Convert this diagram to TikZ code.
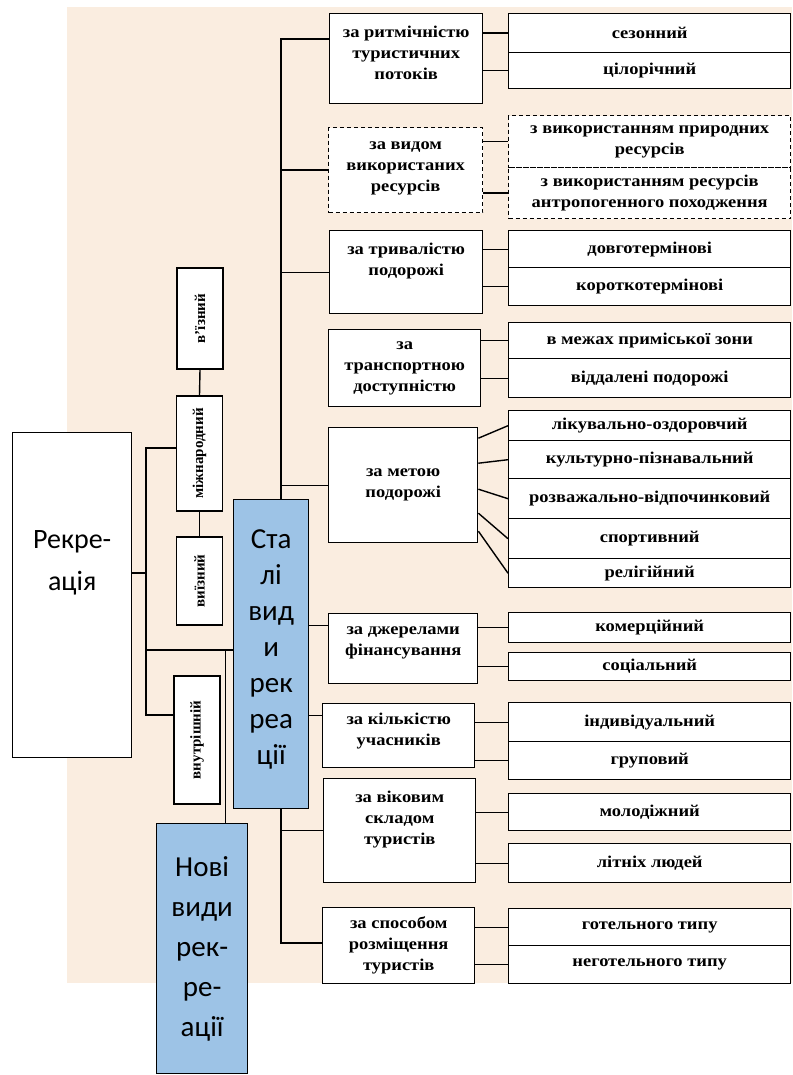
\documentclass[tikz,border=0pt]{standalone}
\usepackage{fontspec}
\usepackage{tikz}
\usetikzlibrary{calc}
\setmainfont{Carlito}
\newfontfamily\scanfont{Liberation Serif}[FakeStretch=1.12]
\newfontfamily\rotfont{Liberation Serif}
\definecolor{paper}{HTML}{FAEDE0}
\definecolor{slide}{HTML}{9DC3E6}
\tikzset{
    link/.style={line width=1.4pt},
    catbox/.style={draw, line width=1.4pt, fill=white, align=center, inner sep=2pt,
        anchor=north west, font=\scanfont\bfseries\fontsize{16.5}{21}\selectfont},
    valbox/.style={catbox, minimum width=282pt},
    dashbox/.style={dash pattern=on 4pt off 3pt},
    rotbox/.style={catbox, anchor=center, rotate=90, minimum height=46pt,
        font=\rotfont\bfseries\fontsize{15}{20}\selectfont},
    bluebox/.style={draw, line width=1.3pt, fill=slide, align=center, anchor=north west,
        font=\fontsize{29}{36}\selectfont},
}

\begin{document}
\begin{tikzpicture}[x=1pt, y=-1pt]
    \useasboundingbox (0,0) rectangle (792,1075);
    \fill[paper] (67,7) rectangle (792,983);

    \node[catbox, minimum width=153pt, minimum height=90pt, text depth=12pt] (c1) at (329,13) {за ритмічністю\\туристичних\\потоків};
    \node[catbox, dashbox, minimum width=154pt, minimum height=85pt, text depth=8pt] (c2) at (328,127) {за видом\\використаних\\ресурсів};
    \node[catbox, minimum width=153pt, minimum height=83pt, text depth=26pt] (c3) at (329,230) {за тривалістю\\подорожі};
    \node[catbox, minimum width=152pt, minimum height=77pt] (c4) at (328,329) {за\\транспортною\\доступністю};
    \node[catbox, minimum width=149pt, minimum height=115pt] (c5) at (328,427) {за метою\\подорожі};
    \node[catbox, minimum width=149pt, minimum height=70pt, text depth=16pt] (c6) at (328,613) {за джерелами\\фінансування};
    \node[catbox, minimum width=152pt, minimum height=64pt, text depth=12pt] (c7) at (322,703) {за кількістю\\учасників};
    \node[catbox, minimum width=152pt, minimum height=104pt, text depth=26pt] (c8) at (323,778) {за віковим\\складом\\туристів};
    \node[catbox, minimum width=152pt, minimum height=76pt] (c9) at (322,907) {за способом\\розміщення\\туристів};

    \node[valbox, minimum height=39pt] (r1a) at (508,13) {сезонний};
    \node[valbox, minimum height=36pt] (r1b) at (508,52) {цілорічний};
    \node[valbox, dashbox, minimum height=52pt] (r2a) at (508,115) {з використанням природних\\ресурсів};
    \node[valbox, dashbox, minimum height=51pt] (r2b) at (508,167) {з використанням ресурсів\\антропогенного походження};
    \node[valbox, minimum height=37pt] (r3a) at (508,230) {довготермінові};
    \node[valbox, minimum height=38pt] (r3b) at (508,267) {короткотермінові};
    \node[valbox, minimum height=36pt] (r4a) at (508,322) {в межах приміської зони};
    \node[valbox, minimum height=39pt] (r4b) at (508,358) {віддалені подорожі};
    \node[valbox, minimum height=30pt] (r5a) at (508,410) {лікувально-оздоровчий};
    \node[valbox, minimum height=38pt] (r5b) at (508,440) {культурно-пізнавальний};
    \node[valbox, minimum height=40pt] (r5c) at (508,478) {розважально-відпочинковий};
    \node[valbox, minimum height=40pt] (r5d) at (508,518) {спортивний};
    \node[valbox, minimum height=29pt] (r5e) at (508,558) {релігійний};
    \node[valbox, minimum height=30pt] (r6a) at (508,612) {комерційний};
    \node[valbox, minimum height=28pt] (r6b) at (508,652) {соціальний};
    \node[valbox, minimum height=39pt] (r7a) at (508,702) {індивідуальний};
    \node[valbox, minimum height=38pt] (r7b) at (508,741) {груповий};
    \node[valbox, minimum height=37pt] (r8a) at (508,793) {молодіжний};
    \node[valbox, minimum height=39pt] (r8b) at (508,843) {літніх людей};
    \node[valbox, minimum height=37pt] (r9a) at (508,908) {готельного типу};
    \node[valbox, minimum height=38pt] (r9b) at (508,945) {неготельного типу};

    \node[rotbox, minimum width=101pt] (vz) at (200,318.5) {в’їзний};
    \node[rotbox, minimum width=115pt] (mz) at (199.5,453.5) {міжнародний};
    \node[rotbox, minimum width=88pt] (vy) at (199.5,581) {виїзний};
    \node[rotbox, minimum width=128pt] (vn) at (197,740) {внутрішній};

    \node[draw, line width=1.3pt, fill=white, align=center, anchor=north west, minimum width=119pt,
        minimum height=325pt, text depth=70pt, font=\fontsize{28}{42}\selectfont] (rk) at (12,432) {Рекре-\\ація};

    \coordinate (sp1) at (281,39);
    \coordinate (sp2) at (281,943);
    \coordinate (lr) at (146,573);
    \coordinate (lt) at (146,448);
    \coordinate (lb) at (146,715);
    \coordinate (lm) at (146,650);
    \coordinate (jn) at (225,650);

    \draw[link] (c1.west |- sp1) -- (sp1) -- (sp2) -- (c9.west |- sp2);
    \foreach \c in {c2, c3, c5, c8}
        \draw[link] (\c.west) -- (\c.west -| sp1);
    \draw[link] ([yshift=23pt]c6.west) -- ([yshift=23pt]c6.west -| sp1);
    \draw[link] ([yshift=20pt]c7.west) -- ([yshift=20pt]c7.west -| sp1);
    \foreach \c/\r in {c1/r1a, c1/r1b, c2/r2a, c2/r2b, c3/r3a, c3/r3b, c4/r4a, c4/r4b,
        c6/r6a, c6/r6b, c7/r7a, c7/r7b, c8/r8a, c8/r8b, c9/r9a, c9/r9b}
        \draw[link] (\c.east |- \r.west) -- (\r.west);
    \foreach \r/\s in {r5a/47, r5b/22, r5c/-4, r5d/-28, r5e/-46}
        \draw[link] ([yshift=\s pt]c5.east) -- (\r.west);

    \draw[link] (rk.east |- lr) -- (lr);
    \draw[link] (mz.north |- lt) -- (lt) -- (lb) -- (vn.north |- lb);
    \draw[link] (lm) -- (lm -| sp1);
    \draw[link] (vz.west) -- (mz.east);
    \draw[link] (mz.west) -- (vy.east);

    \node[bluebox, minimum width=75pt, minimum height=309pt, text depth=14pt] (st) at (233,499) {Ста\\лі\\вид\\и\\рек\\реа\\ції};
    \node[bluebox, minimum width=91pt, minimum height=250pt, font=\fontsize{29}{40}\selectfont] (nv) at (156,823) {Нові\\види\\рек-\\ре-\\ації};
    \draw[line width=0.8pt] (jn) -- (jn |- nv.north);
\end{tikzpicture}
\end{document}
